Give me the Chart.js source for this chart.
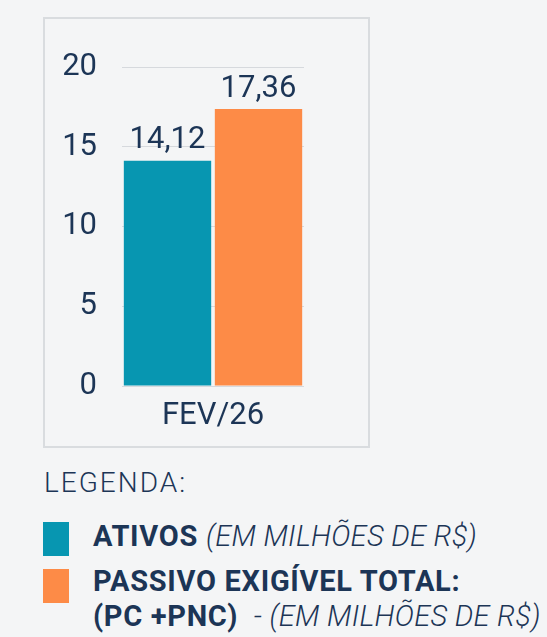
<!DOCTYPE html>
<html>
<head>
<meta charset="utf-8">
<script src="https://cdn.jsdelivr.net/npm/chart.js@4.4.1/dist/chart.umd.min.js"></script>
<style>
  html, body { margin: 0; padding: 0; }
  body { width: 547px; height: 637px; background: #f4f5f6; position: relative; overflow: hidden;
         font-family: Roboto, "Noto Sans", sans-serif; color: #1c3556; }
  #box { position: absolute; left: 43px; top: 17px; width: 323px; height: 427px;
         border: 2px solid #d9dcdf; }
  #box canvas { display: block; }
  .t { position: absolute; font-size: 29px; line-height: 28px; white-space: nowrap; letter-spacing: 0.7px; }
  .sq { position: absolute; left: 43px; width: 26px; height: 34px; }
  b { font-weight: 700; }
  i { font-weight: 300; font-style: italic; letter-spacing: 0.3px; }
</style>
</head>
<body>
<div id="box"><canvas id="myChart" width="323" height="427"></canvas></div>

<div class="t" style="left:44px; top:469px; font-size:28px; font-weight:300; letter-spacing:2px;">LEGENDA:</div>
<div class="sq" id="sq1" style="top:522px;"></div>
<div class="sq" id="sq2" style="top:569px;"></div>
<div class="t" style="left:93px; top:522px;"><b>ATIVOS</b> <i>(EM MILHÕES DE R$)</i></div>
<div class="t" style="left:93px; top:567px;"><b>PASSIVO EXIGÍVEL TOTAL:</b></div>
<div class="t" style="left:93px; top:602px;"><b>(PC +PNC)</b>&nbsp; <i>- (EM MILHÕES DE R$)</i></div>

<script>
// dados
const categorias = ['FEV/26'];
const ativos = [14.12];
const passivo = [17.36];
const nomes = ['ATIVOS', 'PASSIVO EXIGÍVEL TOTAL'];
const cores = ['#0796b1', '#fd8b47'];
const ticksY = [0, 5, 10, 15, 20];

document.getElementById('sq1').style.background = cores[0];
document.getElementById('sq2').style.background = cores[1];

const corTexto = '#1c3556';

// rotulos em cima das barras (formato 14,12)
const rotulos = {
  id: 'rotulos',
  afterDatasetsDraw(chart) {
    const c = chart.ctx;
    c.save();
    c.font = '31px Roboto';
    c.fillStyle = corTexto;
    c.textAlign = 'center';
    c.textBaseline = 'alphabetic';
    chart.data.datasets.forEach((ds, i) => {
      chart.getDatasetMeta(i).data.forEach((bar, j) => {
        c.fillText(ds.data[j].toFixed(2).replace('.', ','), bar.x, bar.y - 12.5);
      });
    });
    c.restore();
  }
};

const ctx = document.getElementById('myChart');

new Chart(ctx, {
  type: 'bar',
  data: {
    labels: categorias,
    datasets: [
      { label: nomes[0], data: ativos, backgroundColor: cores[0], categoryPercentage: 1, barPercentage: 0.96 },
      { label: nomes[1], data: passivo, backgroundColor: cores[1], categoryPercentage: 1, barPercentage: 0.96 }
    ]
  },
  options: {
    responsive: false,
    animation: false,
    layout: { padding: { top: 48, right: 64, bottom: 0, left: 0 } },
    plugins: { legend: { display: false }, tooltip: { enabled: false } },
    scales: {
      x: {
        grid: { display: false },
        border: { display: false },
        ticks: { color: corTexto, font: { family: 'Roboto', size: 31 }, padding: 4 },
        afterFit(s) { s.height = 60; }
      },
      y: {
        min: ticksY[0],
        max: ticksY[ticksY.length - 1],
        afterBuildTicks(s) { s.ticks = ticksY.map(v => ({ value: v })); },
        grid: { color: '#d6d9dd', lineWidth: 1, drawTicks: false },
        border: { display: false },
        ticks: { color: corTexto, font: { family: 'Roboto', size: 31 }, padding: 25 },
        afterFit(s) { s.width = 77; }
      }
    }
  },
  plugins: [rotulos]
});
</script>
</body>
</html>
